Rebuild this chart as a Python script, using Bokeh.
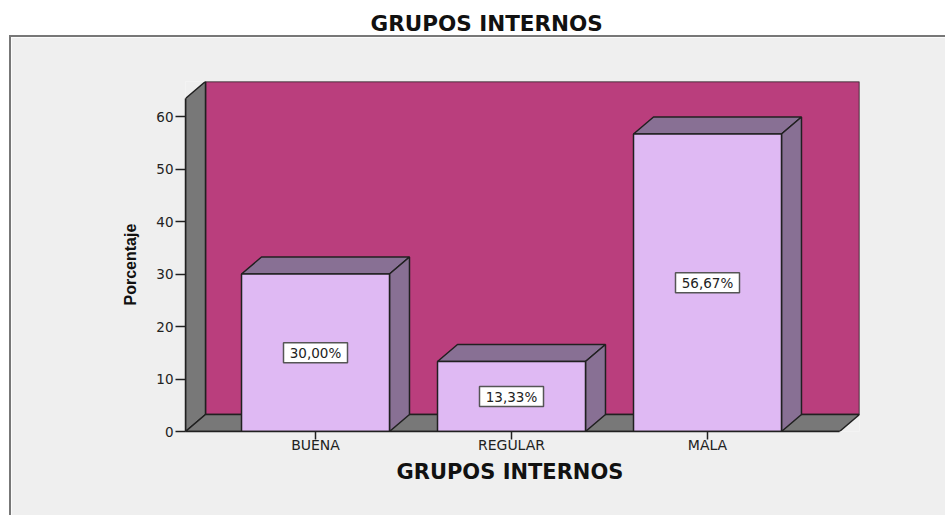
from bokeh.embed import file_html
from bokeh.resources import INLINE
from bokeh.plotting import figure
from bokeh.layouts import column
from bokeh.models import ColumnDataSource, LinearAxis, FixedTicker, Title, Range1d
from bokeh.core.properties import value

categories = ["BUENA", "REGULAR", "MALA"]
percent = [30.00, 13.33, 56.67]
labels = ["30,00%", "13,33%", "56,67%"]
yticks = [0, 10, 20, 30, 40, 50, 60]
positions = [1, 2, 3]
chart_title = "GRUPOS INTERNOS"
y_title = "Porcentaje"

X0, X1, Y0, Y1 = 0.3367, 3.7755, 0, 66.67
DX, DY = 0.102, 3.24   # oblique depth in data units
BAR = 0.755
EDGE = "#202020"
PANEL = "#efefef"

head = figure(width=947, height=35, output_backend="svg", toolbar_location=None,
              x_axis_location=None, y_axis_location=None, min_border=0,
              border_fill_color="white", background_fill_color="white", outline_line_color=None)
head.grid.visible = False
head.add_layout(Title(text=chart_title, align="left", offset=196, text_font="DejaVu Sans",
                      text_font_style="bold", text_font_size="21.5px", text_color="#111111",
                      standoff=0), "below")

p = figure(width=936, height=480, output_backend="svg", toolbar_location=None,
           x_range=Range1d(X0, X1), y_range=Range1d(Y0, Y1),
           x_axis_location=None, y_axis_location=None,
           min_border_left=174, min_border_right=88, min_border_top=44, min_border_bottom=86,
           border_fill_color=PANEL, background_fill_color=PANEL, outline_line_color=None,
           margin=(0, 0, 0, 9))
p.styles = {"border-left": "2px solid #777777", "border-top": "2px solid #777777"}
p.grid.visible = False

# back wall, left wall, floor
xl, xr, yt = X0 + DX, X1, Y1
p.patch([xl, xr, xr, xl], [DY, DY, yt, yt], fill_color="#ba3e7d", line_color=EDGE, line_width=1.5)
p.patch([X0, xl, xl, X0], [0, DY, yt, yt - DY], fill_color="#787878", line_color=EDGE, line_width=1.5)
p.patch([X0, xl, xr, xr - DX], [0, DY, DY, 0], fill_color="#787878", line_color=EDGE, line_width=1.5)

# 3D bars
lefts = [c - BAR / 2 for c in positions]
rights = [c + BAR / 2 for c in positions]
p.patches([[l, l + DX, r + DX, r] for l, r in zip(lefts, rights)],
          [[v, v + DY, v + DY, v] for v in percent],
          fill_color="#887094", line_color=EDGE, line_width=1.5)
p.patches([[r, r + DX, r + DX, r] for r in rights],
          [[0, DY, v + DY, v] for v in percent],
          fill_color="#887094", line_color=EDGE, line_width=1.5)
p.quad(left=lefts, right=rights, bottom=0, top=percent,
       fill_color="#dfb9f3", line_color=EDGE, line_width=1.5)

# value labels
src = ColumnDataSource(dict(x=positions, y=[v / 2 for v in percent], t=labels))
p.rect(x="x", y="y", width=64, height=20, width_units="screen", height_units="screen", source=src,
       fill_color="white", line_color="#555555", line_width=1.5)
p.text(x="x", y="y", text="t", source=src, text_align="center", text_baseline="middle",
       text_font=value("DejaVu Sans"), text_font_size="13.5px", text_color="#222222")

# axes
ya = LinearAxis(ticker=FixedTicker(ticks=yticks))
ya.bounds = (0, Y1 - DY)
xa = LinearAxis(ticker=FixedTicker(ticks=positions),
                major_label_overrides={c: s for c, s in zip(positions, categories)})
xa.bounds = (X0, X1 - DX)
for a in (xa, ya):
    a.axis_line_color = EDGE
    a.axis_line_width = 1.5
    a.major_tick_line_color = EDGE
    a.major_tick_line_width = 1.5
    a.major_tick_in = 0
    a.minor_tick_line_color = None
    a.major_label_text_font = "DejaVu Sans"
    a.major_label_text_color = "#222222"
ya.major_label_text_font_size = "13.5px"
xa.major_label_text_font_size = "14px"
ya.major_tick_out = 10
ya.major_label_standoff = 2
xa.major_tick_out = 8
xa.major_label_standoff = -3
p.add_layout(ya, "left")
p.add_layout(xa, "below")
p.add_layout(Title(text=chart_title, align="left", offset=211, text_font="DejaVu Sans",
                   text_font_style="bold", text_font_size="21px", text_color="#111111",
                   standoff=4), "below")
p.add_layout(Title(text=y_title, align="left", offset=126, text_font="Liberation Sans",
                   text_font_style="bold", text_font_size="16px", text_color="#111111",
                   standoff=30), "left")

open("out.html", "w").write(file_html(column(head, p, spacing=0), INLINE))
